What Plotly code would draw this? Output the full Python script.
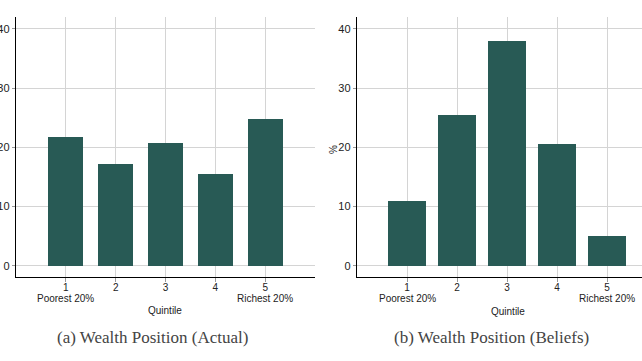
import plotly.graph_objects as go

quintiles = [1, 2, 3, 4, 5]
tick_labels = ["1", "2", "3", "4", "5"]
end_labels = {1: "Poorest 20%", 5: "Richest 20%"}
actual = [21.8, 17.2, 20.7, 15.5, 24.7]
beliefs = [10.9, 25.4, 37.9, 20.5, 5.0]
captions = ["(a) Wealth Position (Actual)", "(b) Wealth Position (Beliefs)"]
y_ticks = [0, 10, 20, 30, 40]

W, H = 642, 361
bar_color = "#285a55"
grid_color = "#d4d4d4"
sans = "Liberation Sans, Arial, sans-serif"

fig = go.Figure()
fig.add_trace(go.Bar(x=quintiles, y=actual, width=0.7, marker=dict(color=bar_color, line=dict(width=0)),
                     xaxis="x", yaxis="y", showlegend=False, hoverinfo="skip"))
fig.add_trace(go.Bar(x=quintiles, y=beliefs, width=0.75, marker=dict(color=bar_color, line=dict(width=0)),
                     xaxis="x2", yaxis="y2", showlegend=False, hoverinfo="skip"))

ydom = [(H - 277) / H, (H - 17) / H]
tickfont = dict(family=sans, size=10, color="#222")

def xax(domain, rng, anchor):
    return dict(domain=domain, range=rng, anchor=anchor, tickvals=quintiles, ticktext=tick_labels,
                showgrid=True, gridcolor=grid_color, gridwidth=1, zeroline=False,
                showline=True, linecolor="black", linewidth=1.2, ticks="outside", ticklen=4,
                tickcolor="#999", tickfont=tickfont, automargin=False, fixedrange=True,
                ticklabelstandoff=-3)

def yax(rng, anchor):
    return dict(domain=ydom, range=rng, anchor=anchor, tickvals=y_ticks,
                showgrid=True, gridcolor=grid_color, gridwidth=1, zeroline=False,
                showline=True, linecolor="black", linewidth=1.2, ticks="outside", ticklen=3,
                tickcolor="#999", tickfont=dict(family=sans, size=11, color="#222"),
                automargin=False, fixedrange=True)

fig.update_layout(
    width=W, height=H, margin=dict(l=0, r=0, t=0, b=0),
    paper_bgcolor="white", plot_bgcolor="white", bargap=0,
    xaxis=xax([16 / W, 315 / W], [0, 6], "y"),
    yaxis=yax([-1.9, 42], "x"),
    xaxis2=xax([357 / W, 1.0], [0, 5.7], "y2"),
    yaxis2=yax([-1.9, 42], "x2"),
)

for xr in ["x", "x2"]:
    for q, lab in end_labels.items():
        fig.add_annotation(xref=xr, yref="paper", x=q, y=(H - 298.5) / H, text=lab, showarrow=False,
                           font=dict(family=sans, size=10, color="#222"),
                           xanchor="center", yanchor="middle")

anns = [
    dict(text="Quintile", x=165 / W, y=(H - 310.5) / H),
    dict(text="Quintile", x=508 / W, y=(H - 311.5) / H),
]
for a in anns:
    fig.add_annotation(xref="paper", yref="paper", x=a["x"], y=a["y"], text=a["text"], showarrow=False,
                       font=dict(family=sans, size=10, color="#222"),
                       xanchor="center", yanchor="middle")
fig.add_annotation(xref="paper", yref="paper", x=334 / W, y=(H - 149) / H, text="%", textangle=-90,
                   showarrow=False, font=dict(family=sans, size=10, color="#222"),
                   xanchor="center", yanchor="middle")
for cx, cap in zip([152 / W, 491 / W], captions):
    fig.add_annotation(xref="paper", yref="paper", x=cx, y=(H - 337) / H, text=cap, showarrow=False,
                       font=dict(family="Liberation Serif, DejaVu Serif, serif", size=17, color="#444"),
                       xanchor="center", yanchor="middle")

fig.write_html("out.html", config={"displayModeBar": False, "staticPlot": True},
               post_script="document.body.style.margin='0';document.body.style.overflow='hidden';")
